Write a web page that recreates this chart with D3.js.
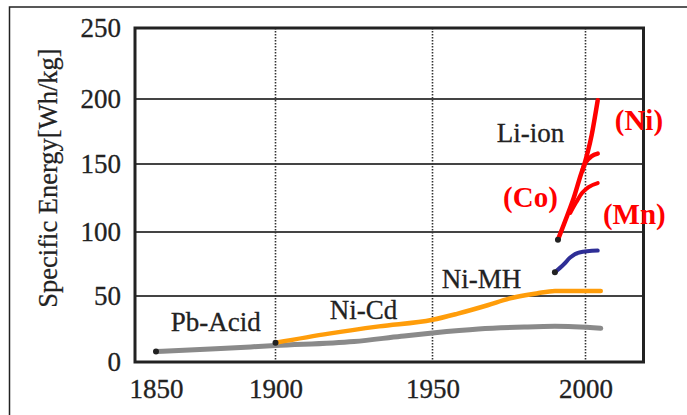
<!DOCTYPE html>
<html>
<head>
<meta charset="utf-8">
<script src="https://cdn.jsdelivr.net/npm/d3@7/dist/d3.min.js"></script>
<style>
  html, body { margin: 0; padding: 0; background: #fff; }
  svg { display: block; }
  text { font-family: "Liberation Serif", "Times New Roman", serif; }
</style>
</head>
<body>
<svg id="chart" width="687" height="415"></svg>
<script>
// Year ticks on the x axis and value ticks on the y axis
const xTicks = [1850, 1900, 1950, 2000];
const yTicks = [0, 50, 100, 150, 200, 250];
const gridYears = [1900, 1950, 2000];
const gridValues = [50, 100, 150, 200];

// Specific energy [Wh/kg] by year for each chemistry
const pbAcid = [[1850, 8], [1875, 10], [1900, 12.5], [1925, 15.5], [1940, 19.5], [1950, 22], [1965, 25], [1980, 26.5], [1990, 27], [2005, 25.5]];
const niCd = [[1900, 14.6], [1917, 21.5], [1933, 27], [1950, 32], [1958, 36.5], [1968, 43], [1975, 48], [1984, 52], [1990, 54], [2005, 54]];
const niMH = [[1990, 68.5], [1993, 75], [1995, 80], [1998, 84], [2004, 85.5]];
const liCo = [[1991, 94], [1996, 124], [2000, 151], [2002, 156], [2004, 158]];
const liNi = [[1999, 145], [2002, 172], [2004, 199]];
const liMn = [[1995, 114], [1997, 122], [1999, 129], [2001, 133], [2004, 136]];

// Series labels
const labels = [
  { text: "Pb-Acid", year: 1875, value: 30, color: "#222", bold: false },
  { text: "Ni-Cd", year: 1928, value: 39.5, color: "#222", bold: false },
  { text: "Ni-MH", year: 1966, value: 63.5, color: "#222", bold: false },
  { text: "Li-ion", year: 1982, value: 174, color: "#222", bold: false },
  { text: "(Ni)", year: 2017.5, value: 184, color: "#ff0000", bold: true },
  { text: "(Co)", year: 1982, value: 126, color: "#ff0000", bold: true },
  { text: "(Mn)", year: 2016, value: 113, color: "#ff0000", bold: true }
];

const svg = d3.select("#chart");

// Plot frame
const frame = { left: 135, top: 28, right: 643.5, bottom: 362 };

const x = d3.scaleLinear()
  .domain([1841, 1850, 1900, 1950, 2000, 2019])
  .range([frame.left, 156, 275.5, 432.5, 585.5, frame.right]);
const y = d3.scaleLinear()
  .domain([0, 50, 100, 150, 200, 250])
  .range([frame.bottom, 296, 232, 164, 99, frame.top]);

// Outer border (top and left edges)
svg.append("path")
  .attr("d", `M9.5,415 L9.5,7 L687,7`)
  .attr("fill", "none")
  .attr("stroke", "#222")
  .attr("stroke-width", 1.5);

// Horizontal gridlines
svg.append("g").selectAll("line")
  .data(gridValues).join("line")
  .attr("x1", frame.left).attr("x2", frame.right)
  .attr("y1", d => y(d)).attr("y2", d => y(d))
  .attr("stroke", "#444").attr("stroke-width", 2);

// Vertical dotted gridlines
svg.append("g").selectAll("line")
  .data(gridYears).join("line")
  .attr("x1", d => x(d)).attr("x2", d => x(d))
  .attr("y1", frame.top).attr("y2", frame.bottom)
  .attr("stroke", "#333").attr("stroke-width", 1.6)
  .attr("stroke-dasharray", "1.5,1.5");

// Frame around plot area
svg.append("rect")
  .attr("x", frame.left).attr("y", frame.top)
  .attr("width", frame.right - frame.left).attr("height", frame.bottom - frame.top)
  .attr("fill", "none").attr("stroke", "#222").attr("stroke-width", 3);

// Axes (labels only)
const xAxis = svg.append("g")
  .attr("transform", `translate(0,${frame.bottom})`)
  .call(d3.axisBottom(x).tickValues(xTicks).tickFormat(d3.format("d")).tickSize(0).tickPadding(17));
xAxis.select(".domain").remove();
xAxis.selectAll("text")
  .attr("font-family", "Liberation Serif").attr("font-size", 27).attr("fill", "#222")
  .attr("stroke", "#222").attr("stroke-width", 0.3);

const yAxis = svg.append("g")
  .attr("transform", `translate(${frame.left},0)`)
  .call(d3.axisLeft(y).tickValues(yTicks).tickFormat(d3.format("d")).tickSize(0).tickPadding(14));
yAxis.select(".domain").remove();
yAxis.selectAll("text")
  .attr("font-family", "Liberation Serif").attr("font-size", 27).attr("fill", "#222")
  .attr("stroke", "#222").attr("stroke-width", 0.3);

// Y axis title
svg.append("text")
  .attr("transform", `translate(57,178) rotate(-90)`)
  .attr("text-anchor", "middle")
  .attr("font-size", 26.5)
  .attr("fill", "#222")
  .attr("stroke", "#222").attr("stroke-width", 0.25)
  .text("Specific Energy[Wh/kg]");

// Series lines
const line = d3.line()
  .x(d => x(d[0])).y(d => y(d[1]))
  .curve(d3.curveMonotoneX);

const series = [
  { data: pbAcid, color: "#8a8a8a", width: 5 },
  { data: niCd, color: "#ff9d0a", width: 4.5 },
  { data: niMH, color: "#2e2e96", width: 4 },
  { data: liMn, color: "#ff0000", width: 4 },
  { data: liCo, color: "#ff0000", width: 4.5 },
  { data: liNi, color: "#ff0000", width: 4.5 }
];

svg.append("g").selectAll("path")
  .data(series).join("path")
  .attr("d", d => line(d.data))
  .attr("fill", "none")
  .attr("stroke", d => d.color)
  .attr("stroke-width", d => d.width)
  .attr("stroke-linecap", "round")
  .attr("stroke-linejoin", "round");

// Start-point markers
const starts = [pbAcid[0], niCd[0], niMH[0], liCo[0]];
svg.append("g").selectAll("circle")
  .data(starts).join("circle")
  .attr("cx", d => x(d[0])).attr("cy", d => y(d[1]))
  .attr("r", 3).attr("fill", "#222");

// Series labels
svg.append("g").selectAll("text")
  .data(labels).join("text")
  .attr("x", d => x(d.year)).attr("y", d => y(d.value))
  .attr("text-anchor", "middle")
  .attr("dominant-baseline", "central")
  .attr("font-size", d => d.bold ? 29 : 27)
  .attr("font-weight", d => d.bold ? "bold" : "normal")
  .attr("fill", d => d.color)
  .attr("stroke", d => d.color)
  .attr("stroke-width", d => d.bold ? 0 : 0.3)
  .text(d => d.text);
</script>
</body>
</html>
